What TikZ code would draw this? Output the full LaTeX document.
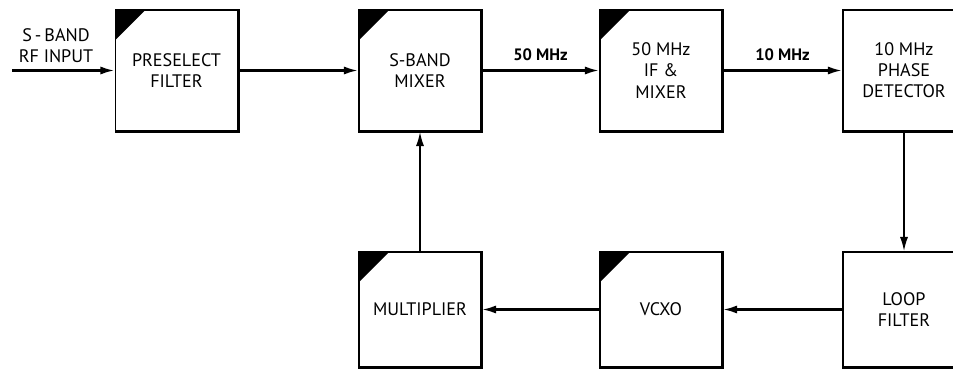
\documentclass[tikz,border=0pt]{standalone}
\usepackage{fontspec}
\setmainfont{PT Sans}
\usetikzlibrary{arrows.meta}

\begin{document}
\begin{tikzpicture}[
  x=0.2mm,
  y=0.2mm,
  every node/.style={font=\fontsize{10.3}{12}\selectfont},
  blockbox/.style={draw, line width=1.1pt, minimum width=2.44cm,
    minimum height=2.42cm, align=center, inner sep=0pt},
  lowbox/.style={blockbox, minimum height=2.3cm},
  cornermark/.style={path picture={
    \fill (path picture bounding box.north west) -- ++(0.6cm,0)
      -- ++(-0.6cm,-0.6cm) -- cycle;}},
  heavyedge/.style={line width=1.7pt},
  sig/.style={line width=1.3pt, -{Latex[length=8pt,width=4.6pt]}},
  feed/.style={sig, line width=0.9pt},
  freq/.style={font=\fontsize{9.4}{11}\selectfont\bfseries, above=1.5pt, midway}
]
  \useasboundingbox (0,0) rectangle (953,370);

  % forward chain
  \node[blockbox, cornermark] (pre) at (176.5,299.5) {PRESELECT\\FILTER};
  \node[blockbox, cornermark] (mix) at (420,299.5) {S-BAND\\MIXER};
  \node[blockbox, cornermark] (ifm) at (661,299.5) {50 MHz\\IF \&\\MIXER};
  \node[blockbox] (pdet) at (904,299.5) {10 MHz\\PHASE\\DETECTOR};

  % loop back
  \node[lowbox] (lpf) at (904,60.5) {LOOP\\FILTER};
  \node[lowbox, cornermark] (vcxo) at (661,60.5) {VCXO};
  \node[lowbox, cornermark] (mult) at (420,60.5) {MULTIPLIER};

  % heavier right and bottom sides
  \foreach \b in {pre,mix,ifm,pdet,lpf,vcxo,mult}
    \draw[heavyedge] (\b.north east) -- (\b.south east) -- (\b.south west);

  \coordinate (rfin) at (12,299.5);
  \node[align=center] (rflabel) at (56,324) {S\,-\,BAND\\RF INPUT};

  \draw[sig] (rfin) -- (pre);
  \draw[sig] (pre) -- (mix);
  \draw[sig] (mix) -- node[freq] {50 MHz} (ifm);
  \draw[sig] (ifm) -- node[freq] {10 MHz} (pdet);
  \draw[feed] (pdet) -- (lpf);
  \draw[sig] (lpf) -- (vcxo);
  \draw[sig] (vcxo) -- (mult);
  \draw[feed] (mult) -- (mix);
\end{tikzpicture}
\end{document}
